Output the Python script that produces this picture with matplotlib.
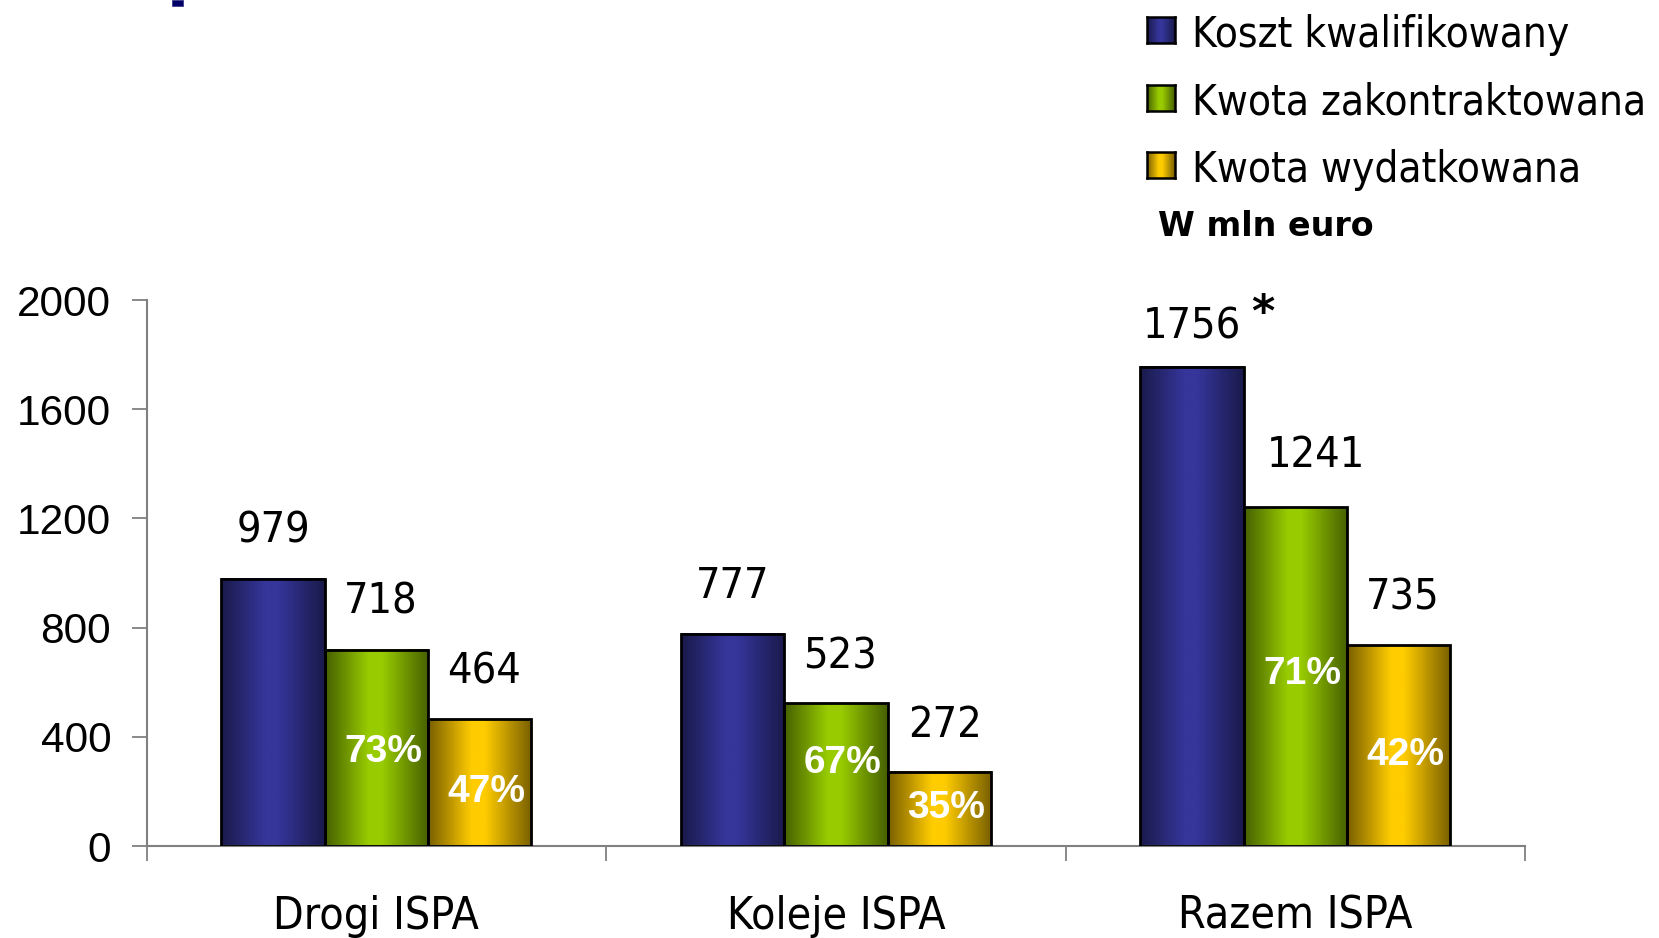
import matplotlib
matplotlib.use("Agg")
import matplotlib.pyplot as plt
import numpy as np
from matplotlib.colors import LinearSegmentedColormap
from matplotlib.patches import Rectangle

# data
CATEGORIES = ["Drogi ISPA", "Koleje ISPA", "Razem ISPA"]
SERIES = ["Koszt kwalifikowany", "Kwota zakontraktowana", "Kwota wydatkowana"]
KOSZT = [979, 777, 1756]
ZAKONTR = [718, 523, 1241]
WYDATK = [464, 272, 735]
UNIT_NOTE = "W mln euro"
Y_TICKS = [0, 400, 800, 1200, 1600, 2000]

# layout only: heights (data units) where the white % labels sit
PCT_Y = [[344, 198], [304, 139], [629, 333]]
# offsets of the value labels from the bar top centre (points)
VAL_DX = [[0, 3, 3], [0, 3, 4], [0, 15, 3]]
VAL_DY = [[26, 26, 26], [26, 25, 25], [20, 29, 26]]

W, H = 1659, 938
DPI = 100

# (dark edge, bright centre) per series
SHADES = [("#1a1a4c", "#35359a"), ("#476100", "#99cc00"), ("#7a6000", "#ffcc00")]

TAHOMA = dict(family="DejaVu Sans", stretch="condensed")


def shade_cmap(dark, bright):
    return LinearSegmentedColormap.from_list(
        "s", [(0, dark), (0.42, bright), (0.55, bright), (1, dark)])


grad = np.linspace(0, 1, 64).reshape(1, -1)

fig = plt.figure(figsize=(W / DPI, H / DPI), dpi=DPI)
ax = fig.add_axes([146.7 / W, 1 - 846 / H, (1525 - 146.7) / W, 546 / H])

values = [KOSZT, ZAKONTR, WYDATK]
bw = 0.225
x = np.arange(len(CATEGORIES))
for s, vals in enumerate(values):
    cmap = shade_cmap(*SHADES[s])
    for c, v in enumerate(vals):
        xc = x[c] + (s - 1) * bw
        ax.imshow(grad, cmap=cmap, aspect="auto", interpolation="bilinear",
                  extent=(xc - bw / 2, xc + bw / 2, 0, v), zorder=2)
    ax.bar(x + (s - 1) * bw, vals, bw, facecolor="none", edgecolor="black",
           linewidth=2.0, zorder=3)
    for c, v in enumerate(vals):
        xc = x[c] + (s - 1) * bw
        ax.annotate(str(v), (xc, v), xytext=(VAL_DX[c][s], VAL_DY[c][s]),
                    textcoords="offset points", ha="center", va="baseline",
                    fontsize=31, color="black", **TAHOMA)

# share of the qualified cost
for c in range(len(CATEGORIES)):
    for s in (1, 2):
        pct = round(100 * values[s][c] / KOSZT[c])
        ax.annotate(f"{pct}%", (x[c] + (s - 1) * bw, PCT_Y[c][s - 1]),
                    xytext=(5, 0), textcoords="offset points",
                    ha="center", va="center", fontsize=28, fontweight="bold",
                    color="white", family="Liberation Sans", zorder=5)

# asterisk next to the total
ax.annotate("*", (x[2] - bw, KOSZT[2]), xytext=(51, 29), textcoords="offset points",
            ha="center", va="baseline", fontsize=32, fontweight="bold",
            color="black", family="DejaVu Sans")

ax.set_xlim(-0.5, 2.5)
ax.set_ylim(0, 2000)
ax.set_yticks(Y_TICKS)
ax.set_yticklabels([str(t) for t in Y_TICKS], family="Liberation Sans", fontsize=30.5)
ax.set_xticks([-0.5, 0.5, 1.5, 2.5])
ax.set_xticklabels([])
ax.set_xticks(x, minor=True)
ax.set_xticklabels(CATEGORIES, minor=True, fontsize=32, **TAHOMA)
ax.tick_params(axis="x", which="minor", length=0, pad=35)
ax.tick_params(axis="both", which="major", length=10.6, width=1.3, color="#808080",
               direction="out", pad=15)
for side in ("top", "right"):
    ax.spines[side].set_visible(False)
for side in ("left", "bottom"):
    ax.spines[side].set_color("#808080")
    ax.spines[side].set_linewidth(1.5)

# legend drawn by hand
rows_y = [47, 114.7, 182.4]
for s, name in enumerate(SERIES):
    sy = rows_y[s] - 30
    sax = fig.add_axes([1147 / W, 1 - (sy + 26) / H, 28 / W, 26 / H])
    sax.imshow(grad, cmap=shade_cmap(*SHADES[s]), aspect="auto", interpolation="bilinear")
    sax.set_xticks([])
    sax.set_yticks([])
    for sp in sax.spines.values():
        sp.set_linewidth(1.8)
        sp.set_color("black")
    fig.text(1192 / W, 1 - rows_y[s] / H, name, ha="left", va="baseline",
             fontsize=30.3, color="black", **TAHOMA)
fig.text(1158 / W, 1 - 236 / H, UNIT_NOTE, ha="left", va="baseline",
         fontsize=24, fontweight="bold", color="black", family="DejaVu Sans")

# cut-off fragment of the slide title at the very top
fig.patches.append(Rectangle((172 / W, 1 - 6 / H), 11 / W, 6 / H,
                             transform=fig.transFigure, facecolor="#000066",
                             edgecolor="#3c3c8c", linewidth=0.6))

fig.savefig("out.png", dpi=DPI, facecolor="white")
